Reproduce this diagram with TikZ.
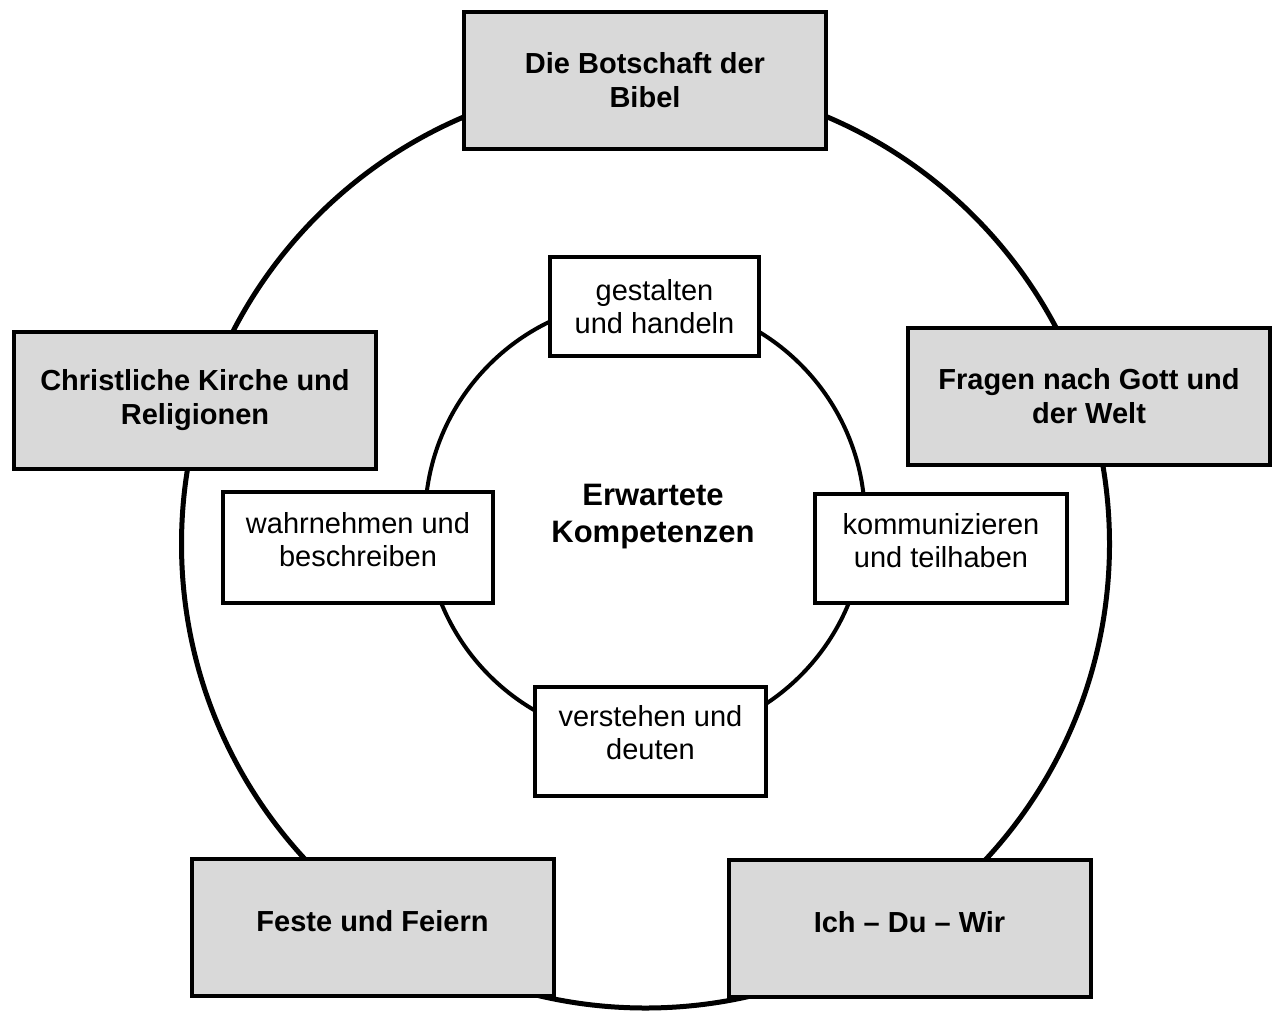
\documentclass[tikz,border=0pt]{standalone}
\usepackage{fontspec}
\setmainfont{Liberation Sans}
\usetikzlibrary{positioning}

\begin{document}
\begin{tikzpicture}[x=1pt,y=-1pt,
  thema/.style={shape=rectangle,draw=black,line width=4pt,fill=black!15,minimum width=362pt,minimum height=137pt,align=center,font=\fontsize{29}{34}\selectfont\bfseries},
  kompetenz/.style={shape=rectangle,draw=black,line width=4pt,fill=white,align=center,font=\fontsize{29}{33}\selectfont}]
  \useasboundingbox (0,0) rectangle (1279,1012);
  % circles
  \node[shape=circle,draw=black,line width=5pt,minimum size=928pt] (aussen) at (645.5,544) {};
  \node[shape=circle,draw=black,line width=4pt,minimum size=440pt] (innen) at (645,520) {};
  % Inhaltsbereiche
  \node[thema] (bibel) at (645,80.5) {Die Botschaft der\\Bibel};
  \node[thema] (kirche) at (195,400) {Christliche Kirche und\\Religionen};
  \node[thema] (fragen) at (1089,396.5) {Fragen nach Gott und\\der Welt};
  \node[thema,text depth=12pt] (feste) at (372.5,927) {Feste und Feiern};
  \node[thema,text depth=12pt] (wir) at (909.5,928) {Ich -- Du -- Wir};
  % Kompetenzen
  \node[kompetenz,minimum width=209pt,minimum height=99pt] (gestalten) at (654.5,306.5) {gestalten\\und handeln};
  \node[kompetenz,minimum width=270pt,minimum height=111pt,text depth=17pt] (wahrnehmen) at (358,547.5) {wahrnehmen und\\beschreiben};
  \node[kompetenz,minimum width=252pt,minimum height=109pt,text depth=17pt] (kommunizieren) at (941,548.5) {kommunizieren\\und teilhaben};
  \node[kompetenz,minimum width=231pt,minimum height=109pt,text depth=18pt] (verstehen) at (650.5,741.5) {verstehen und\\deuten};
  \node[align=center,font=\fontsize{31}{37}\selectfont\bfseries] (mitte) at (653,517) {Erwartete\\Kompetenzen};
\end{tikzpicture}
\end{document}
